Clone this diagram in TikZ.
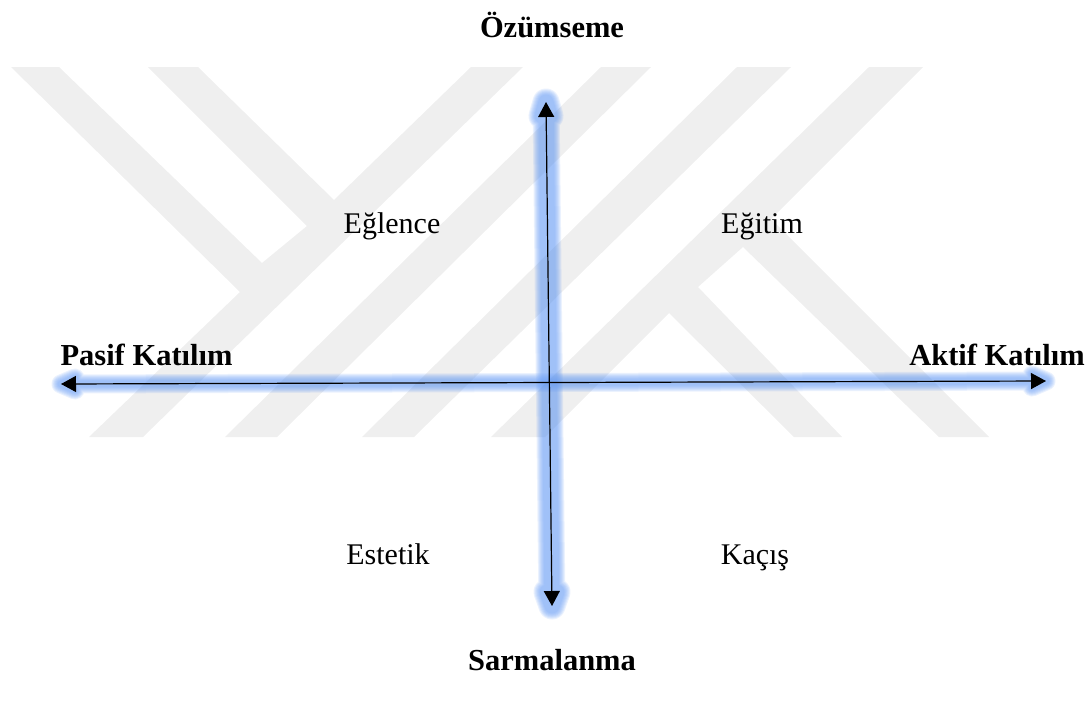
\documentclass[tikz,border=0pt]{standalone}
\usepackage{fontspec}
\setmainfont{Liberation Serif}
\usetikzlibrary{arrows.meta}
\definecolor{markgray}{HTML}{EFEFEF}
\definecolor{glowblue}{RGB}{110,160,245}
\tikzset{
  band/.style={fill=markgray},
  glow/.style={draw=glowblue, opacity=.14, line join=round, line cap=round},
  axis/.style={{Triangle[length=15pt,width=16pt]}-{Triangle[length=15pt,width=16pt]}, line width=1.2pt, black},
  lbl/.style={anchor=base, inner sep=0pt, font=\fontsize{30}{33}\selectfont},
  boldlbl/.style={lbl, font=\fontsize{30.5}{33}\selectfont\bfseries}
}
\begin{document}
\begin{tikzpicture}[x=1pt, y=-1pt]
  \useasboundingbox (0,0) rectangle (1089,702);
  % watermark
  \fill[band] (11,67) -- (59,67) -- (262,263) -- (307,226) -- (148,67) -- (198,67) -- (334,200)
    -- (471,67) -- (523,67) -- (143,437) -- (89,437) -- (240,292) -- cycle;
  \foreach \a/\b/\c/\d in {601/651/277/225, 737/791/414/362} {
    \fill[band] (\a,67) -- (\b,67) -- (\c,437) -- (\d,437) -- cycle;
  }
  \fill[band] (869,67) -- (923,67) -- (771,219) -- (989,437) -- (939,437) -- (743,247) -- (698,287)
    -- (842,437) -- (794,437) -- (669,313) -- (545,437) -- (491,437) -- cycle;
  % axes
  \coordinate (pasif) at (61,384);
  \coordinate (aktif) at (1046,381);
  \coordinate (ozum) at (546,102);
  \coordinate (sarma) at (552,606);
  \foreach \w in {19,17,15,13,11,9,7} {
    \draw[glow, line width=\w pt] (pasif) -- (aktif)
      (pasif) -- ++(14,-6) -- ++(0,12) -- cycle (aktif) -- ++(-14,-6) -- ++(0,12) -- cycle;
  }
  \foreach \w in {27,25,23,21,19,17,15} {
    \draw[glow, line width=\w pt] (ozum) -- (sarma)
      (ozum) -- ++(-4,14) -- ++(8,0) -- cycle (sarma) -- ++(-5,-14) -- ++(10,0) -- cycle;
  }
  \draw[axis] (pasif) -- (aktif);
  \draw[axis] (ozum) -- (sarma);
  % labels
  \foreach \n/\x/\y/\t in {eglence/392/233/Eğlence, egitim/762/233/Eğitim, estetik/388/564/Estetik, kacis/755/564/Kaçış} {
    \node[lbl] (\n) at (\x,\y) {\t};
  }
  \foreach \n/\x/\y/\t in {ozumseme/552/37/Özümseme, sarmalanma/552/670/Sarmalanma, pasifk/146.5/365/Pasif Katılım, aktifk/997/365/Aktif Katılım} {
    \node[boldlbl] (\n) at (\x,\y) {\t};
  }
\end{tikzpicture}
\end{document}
